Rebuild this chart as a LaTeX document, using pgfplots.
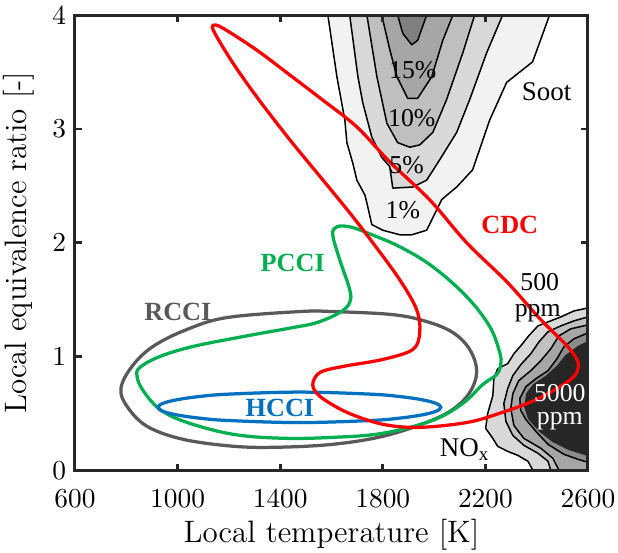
\documentclass[border=0pt]{standalone}
\usepackage{fontspec}
\usepackage{pgfplots}
\pgfplotsset{compat=1.18}
\newfontfamily\tnr{Liberation Serif}
\definecolor{cdc}{HTML}{FF0000}
\definecolor{pcci}{HTML}{00B050}
\definecolor{hcci}{HTML}{0070C0}
\definecolor{rcci}{HTML}{595959}
\definecolor{frame}{HTML}{262626}
\definecolor{sA}{HTML}{F2F2F2}
\definecolor{sB}{HTML}{D9D9D9}
\definecolor{sC}{HTML}{BFBFBF}
\definecolor{sD}{HTML}{A6A6A6}
\definecolor{sE}{HTML}{808080}
\definecolor{nA}{HTML}{D9D9D9}
\definecolor{nB}{HTML}{C0C0C0}
\definecolor{nC}{HTML}{A6A6A6}
\definecolor{nD}{HTML}{8C8C8C}
\definecolor{nE}{HTML}{262626}
\begin{document}
\begin{tikzpicture}
\useasboundingbox (0,0) rectangle (247.2pt,221.2pt);
\begin{axis}[
  at={(30pt,33.1pt)}, anchor=south west, scale only axis,
  width=205.2pt, height=182pt,
  xmin=600, xmax=2600, ymin=0, ymax=4,
  xtick={600,1000,1400,1800,2200,2600}, ytick={0,1,2,3,4},
  tick align=inside, major tick length=2.6pt,
  axis line style={line width=1.2pt, color=frame},
  every tick/.style={line width=1.1pt, color=frame},
  xticklabel style={font=\fontsize{10.6}{12}\selectfont, yshift=-4.3pt},
  yticklabel style={font=\fontsize{10.6}{12}\selectfont},
  /pgf/number format/1000 sep={},
  xlabel={Local temperature [K]},
  ylabel={Local equivalence ratio [-]},
  every axis x label/.style={at={(axis description cs:0.5,-0.158)}, anchor=base, font=\fontsize{12.4}{14}\selectfont},
  every axis y label/.style={at={(axis description cs:-0.0936,0.5)}, rotate=90, anchor=base, font=\fontsize{12.4}{14}\selectfont},
  axis on top,
  clip=true,
]
% ---- soot contours ----
\addplot[draw=black, line width=0.6pt, fill=sA, line join=round] coordinates {
(1586,4) (1621,3.46) (1652,3.08) (1660,2.88) (1683,2.70) (1699,2.55) (1730,2.42) (1738,2.35)
(1757,2.16) (1800,2.11) (1866,2.07) (1913,2.07) (1971,2.11) (2030,2.38) (2088,2.49) (2150,2.64)
(2217,3.08) (2283,3.41) (2384,3.59) (2450,4)} --cycle;
\addplot[draw=black, line width=0.6pt, fill=sB, line join=round] coordinates {
(1671,4) (1703,3.46) (1722,3.23) (1757,2.93) (1796,2.75) (1827,2.67) (1839,2.48) (1917,2.49)
(1971,2.55) (2022,2.73) (2088,2.97) (2139,3.26) (2205,3.67) (2267,4)} --cycle;
\addplot[draw=black, line width=0.6pt, fill=sC, line join=round] coordinates {
(1738,4) (1777,3.46) (1816,3.05) (1858,2.88) (1905,2.84) (1944,2.86) (1995,2.97) (2049,3.26)
(2112,3.67) (2158,4)} --cycle;
\addplot[draw=black, line width=0.6pt, fill=sD, line join=round] coordinates {
(1796,4) (1827,3.70) (1855,3.46) (1897,3.27) (1936,3.27) (1991,3.46) (2034,3.78) (2073,4)} --cycle;
\addplot[draw=black, line width=0.6pt, fill=sE, line join=round] coordinates {
(1858,4) (1878,3.84) (1913,3.74) (1936,3.78) (1971,4)} --cycle;
% ---- NOx contours ----
\addplot[draw=black, line width=0.6pt, fill=nA, line join=round] coordinates {
(2600,1.427) (2545,1.400) (2494,1.348) (2444,1.304) (2405,1.269) (2369,1.182) (2338,1.094)
(2311,1.024) (2287,0.937) (2248,0.893) (2233,0.805) (2229,0.656) (2209,0.499) (2201,0.368)
(2229,0.280) (2248,0.210) (2287,0.166) (2326,0.131) (2366,0.079) (2385,0) (2600,0)} --cycle;
\addplot[draw=black, line width=0.6pt, fill=nB, line join=round] coordinates {
(2600,1.348) (2545,1.313) (2494,1.269) (2444,1.217) (2409,1.129) (2377,1.024) (2338,0.928)
(2307,0.832) (2287,0.718) (2272,0.586) (2280,0.429) (2307,0.306) (2350,0.219) (2405,0.149)
(2444,0.079) (2455,0) (2600,0)} --cycle;
\addplot[draw=black, line width=0.6pt, fill=nC, line join=round] coordinates {
(2600,1.278) (2533,1.243) (2487,1.182) (2455,1.068) (2416,0.963) (2377,0.875) (2330,0.788)
(2307,0.674) (2299,0.543) (2311,0.394) (2350,0.280) (2416,0.193) (2463,0.105) (2487,0) (2600,0)} --cycle;
\addplot[draw=black, line width=0.6pt, fill=nD, line join=round] coordinates {
(2600,1.208) (2545,1.155) (2506,1.085) (2479,0.980) (2444,0.875) (2397,0.805) (2358,0.735)
(2334,0.630) (2338,0.525) (2358,0.446) (2397,0.341) (2444,0.228) (2506,0.140) (2561,0.096) (2600,0.070)} --cycle;
\addplot[draw=nE, line width=0.6pt, fill=nE, line join=round] coordinates {
(2600,1.129) (2561,1.085) (2514,1.007) (2479,0.910) (2436,0.823) (2389,0.753) (2362,0.674)
(2354,0.560) (2369,0.455) (2409,0.350) (2463,0.254) (2526,0.184) (2600,0.131)} --cycle;
% ---- RCCI ----
\addplot[rcci, line width=1.3pt, smooth cycle, tension=0.6] coordinates {
(1477,1.395) (1605,1.395) (1839,1.368) (1971,1.307) (2073,1.211) (2139,1.061) (2166,0.868)
(2139,0.684) (2073,0.535) (1971,0.421) (1800,0.298) (1605,0.228) (1387,0.202) (1216,0.211)
(1021,0.272) (881,0.386) (803,0.561) (779,0.719) (822,0.912) (904,1.088) (1036,1.237) (1192,1.342)};
% ---- PCCI ----
\addplot[pcci, line width=1.3pt, smooth cycle, tension=0.6] coordinates {
(1621,2.140) (1671,2.140) (1738,2.088) (1866,1.965) (1995,1.789) (2127,1.526) (2217,1.263)
(2256,1.035) (2260,0.930) (2244,0.842) (2190,0.754) (2112,0.588) (1995,0.439) (1800,0.325)
(1605,0.289) (1410,0.281) (1216,0.316) (1036,0.421) (931,0.535) (865,0.702) (842,0.825)
(853,0.904) (931,1.000) (1060,1.088) (1255,1.175) (1449,1.254) (1543,1.298) (1632,1.386)
(1671,1.474) (1671,1.588) (1632,1.851) (1605,2.070)};
% ---- HCCI ----
\addplot[hcci, line width=1.3pt, smooth cycle, tension=0.6] coordinates {
(2026,0.553) (2007,0.588) (1952,0.620) (1865,0.648) (1751,0.669) (1475,0.687) (1199,0.669)
(1085,0.648) (998,0.620) (943,0.588) (924,0.553) (943,0.518) (998,0.486) (1085,0.458)
(1199,0.437) (1475,0.419) (1751,0.437) (1865,0.458) (1952,0.486) (2007,0.518)};
% ---- CDC ----
\addplot[cdc, line width=1.3pt, smooth cycle, tension=0.55] coordinates {
(1138,3.912) (1177,3.886) (1309,3.693) (1438,3.474) (1566,3.254) (1699,3.018) (1827,2.711)
(1983,2.377) (2127,2.000) (2283,1.658) (2412,1.333) (2517,1.096) (2560,0.956) (2556,0.860)
(2517,0.772) (2400,0.623) (2267,0.509) (2131,0.421) (1944,0.377) (1800,0.404) (1660,0.509)
(1555,0.649) (1527,0.754) (1555,0.860) (1644,0.912) (1800,0.974) (1917,1.061) (1944,1.211)
(1932,1.412) (1866,1.675) (1761,2.000) (1671,2.263) (1566,2.553) (1438,2.904) (1309,3.281)
(1216,3.579) (1145,3.842)};
% ---- labels ----
\node[inner sep=0.5pt, font=\tnr\fontsize{10.3}{12}\selectfont] at (axis cs:1917,3.52) {15\%};
\node[inner sep=0.5pt, font=\tnr\fontsize{10.3}{12}\selectfont] at (axis cs:1913,3.10) {10\%};
\node[inner sep=0.5pt, font=\tnr\fontsize{10.3}{12}\selectfont] at (axis cs:1893,2.68) {5\%};
\node[inner sep=0.5pt, font=\tnr\fontsize{10.3}{12}\selectfont] at (axis cs:1878,2.29) {1\%};
\node[inner sep=0.5pt, font=\tnr\fontsize{10.8}{12}\selectfont] at (axis cs:2439,3.33) {Soot};
\node[inner sep=0.5pt, font=\tnr\fontsize{10.3}{12}\selectfont] at (axis cs:2412,1.65) {500};
\node[inner sep=0.5pt, font=\tnr\fontsize{10.3}{12}\selectfont] at (axis cs:2404,1.38) {ppm};
\node[inner sep=0.5pt, font=\tnr\fontsize{10.3}{12}\selectfont, text=white] at (axis cs:2490,0.68) {5000};
\node[inner sep=0.5pt, font=\tnr\fontsize{10.3}{12}\selectfont, text=white] at (axis cs:2490,0.43) {ppm};
\node[inner sep=0.5pt, font=\tnr\fontsize{10.8}{12}\selectfont] at (axis cs:2119,0.18) {NO\textsubscript{x}};
\node[inner sep=0.5pt, font=\tnr\bfseries\fontsize{10.5}{12}\selectfont, text=cdc] at (axis cs:2295,2.16) {CDC};
\node[inner sep=0.5pt, font=\tnr\bfseries\fontsize{10.5}{12}\selectfont, text=pcci] at (axis cs:1449,1.82) {PCCI};
\node[inner sep=0.5pt, font=\tnr\bfseries\fontsize{10.5}{12}\selectfont, text=rcci] at (axis cs:1001,1.39) {RCCI};
\node[inner sep=0.5pt, font=\tnr\bfseries\fontsize{10.5}{12}\selectfont, text=hcci] at (axis cs:1399,0.55) {HCCI};
\end{axis}
\end{tikzpicture}
\end{document}
